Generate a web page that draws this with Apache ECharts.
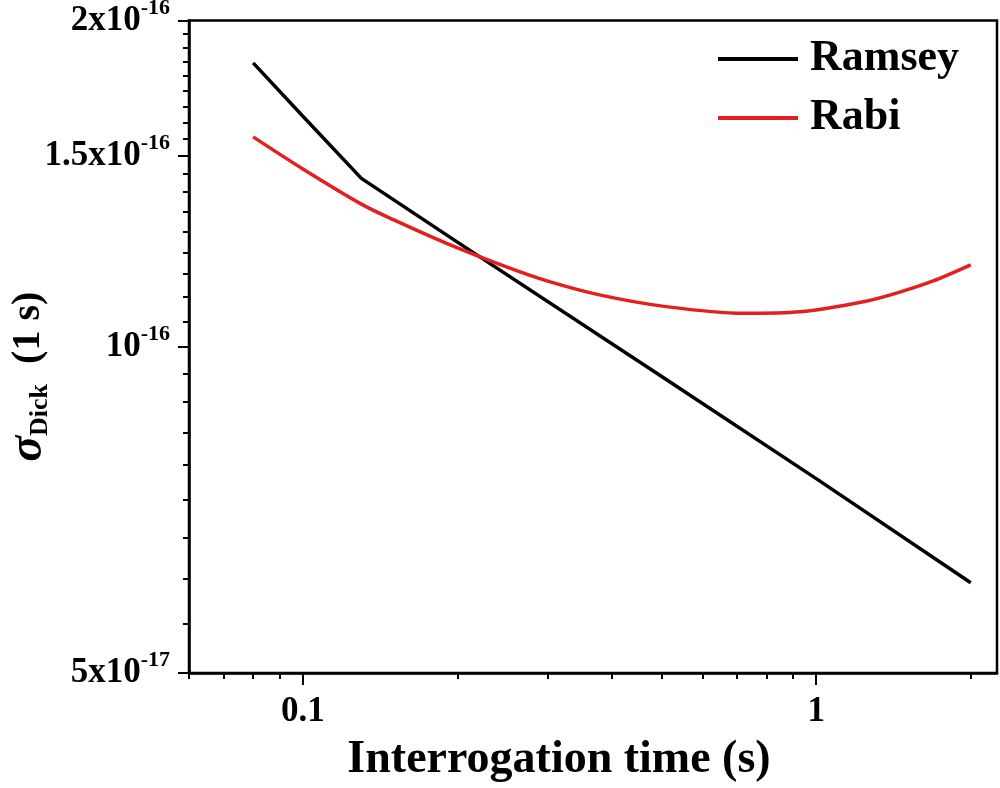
<!DOCTYPE html>
<html><head><meta charset="utf-8">
<script src="https://cdn.jsdelivr.net/npm/echarts@6/dist/echarts.min.js"></script>
<style>html,body{margin:0;padding:0;background:#fff}#c{width:1000px;height:788px}</style>
</head><body><div id="c"></div>
<script>
const timeRamsey = [0.08, 0.1, 0.13, 0.2, 0.5, 1, 2];
const sigmaRamsey = [1.828e-16, 1.632e-16, 1.43e-16, 1.249e-16, 0.9387e-16, 0.7556e-16, 0.6056e-16];
const timeRabi = [0.08, 0.1, 0.13, 0.15, 0.19, 0.25, 0.3, 0.38, 0.51, 0.72, 0.93, 1.25, 1.45, 1.69, 2];
const sigmaRabi = [1.562e-16, 1.459e-16, 1.354e-16, 1.310e-16, 1.2465e-16, 1.1844e-16, 1.1497e-16, 1.116e-16, 1.089e-16, 1.0735e-16, 1.077e-16, 1.1017e-16, 1.1226e-16, 1.150e-16, 1.19e-16];
const seriesNames = ['Ramsey', 'Rabi'];

const xMajorTicks = [0.1, 1];
const xTickLabels = ['0.1', '1'];
const xMinorTicks = [0.06, 0.07, 0.08, 0.09, 0.2, 0.3, 0.4, 0.5, 0.6, 0.7, 0.8, 0.9, 2];
const yMajorTicks = [5e-17, 1e-16, 1.5e-16, 2e-16];
const yTickMantissa = ['5x10', '10', '1.5x10', '2x10'];
const yTickExponent = ['-17', '-16', '-16', '-16'];
const yMinorTicks = [
  0.5556e-16, 0.6111e-16, 0.6667e-16, 0.7222e-16, 0.7778e-16, 0.8333e-16, 0.8889e-16, 0.9444e-16,
  1.0556e-16, 1.1111e-16, 1.1667e-16, 1.2222e-16, 1.2778e-16, 1.3333e-16, 1.3889e-16, 1.4444e-16,
  1.5556e-16, 1.6111e-16, 1.6667e-16, 1.7222e-16, 1.7778e-16, 1.8333e-16, 1.8889e-16, 1.9444e-16
];

const FONT = 'Liberation Serif';
const near = (a, b) => Math.abs(a - b) <= Math.abs(b) * 1e-6;

const chart = echarts.init(document.getElementById('c'), null, {renderer: 'canvas'});
const grid = {left: 189, top: 20.5, right: 3, bottom: 115, containLabel: false, outerBoundsMode: 'none',
  show: true, borderColor: '#000', borderWidth: 2.5, backgroundColor: 'transparent'};
const xBase = {type: 'log', logBase: 10, min: 0.06, max: 2.25, splitLine: {show: false}, minorTick: {show: false}};
const yBase = {type: 'log', logBase: 10, min: 5e-17, max: 2e-16, splitLine: {show: false}, minorTick: {show: false}};

chart.setOption({
  animation: false,
  backgroundColor: '#fff',
  grid: grid,
  legend: {
    orient: 'vertical', left: 718, top: 37, padding: 0, itemGap: 15,
    itemWidth: 80, itemHeight: 4, icon: 'rect',
    data: seriesNames,
    textStyle: {fontFamily: FONT, fontWeight: 'bold', fontSize: 44, color: '#000', padding: [0, 0, 0, 7]}
  },
  xAxis: [
    Object.assign({}, xBase, {
      position: 'bottom',
      name: 'Interrogation time (s)', nameLocation: 'middle', nameGap: 64, nameMoveOverlap: false,
      nameTextStyle: {fontFamily: FONT, fontWeight: 'bold', fontSize: 46, color: '#000', padding: [0, 68, 0, 0]},
      axisLine: {show: true, lineStyle: {color: '#000', width: 2.5}},
      axisTick: {show: true, inside: false, length: 12, lineStyle: {color: '#000', width: 2}, customValues: xMajorTicks},
      axisLabel: {
        show: true, margin: 21, customValues: xMajorTicks,
        fontFamily: FONT, fontWeight: 'bold', fontSize: 35, color: '#000',
        formatter: v => { const i = xMajorTicks.findIndex(t => near(v, t)); return i >= 0 ? xTickLabels[i] : ''; }
      }
    }),
    Object.assign({}, xBase, {
      position: 'bottom',
      axisLine: {show: false},
      axisTick: {show: true, inside: false, length: 6, lineStyle: {color: '#000', width: 2}, customValues: xMinorTicks},
      axisLabel: {show: false}
    })
  ],
  yAxis: [
    Object.assign({}, yBase, {
      position: 'left',
      name: '{s|σ}{sub|Dick}{n|  (1 s)}', nameLocation: 'middle', nameRotate: 90, nameGap: 136, nameMoveOverlap: false,
      nameTextStyle: {
        fontFamily: FONT, fontWeight: 'bold', fontSize: 40, color: '#000', padding: [0, 60, 0, 0],
        rich: {
          s: {fontFamily: FONT, fontWeight: 'bold', fontStyle: 'italic', fontSize: 48, color: '#000'},
          sub: {fontFamily: FONT, fontWeight: 'bold', fontSize: 26, color: '#000', padding: [22, 0, 0, 0]},
          n: {fontFamily: FONT, fontWeight: 'bold', fontSize: 40, color: '#000'}
        }
      },
      axisLine: {show: true, lineStyle: {color: '#000', width: 2.5}},
      axisTick: {show: true, inside: false, length: 11, lineStyle: {color: '#000', width: 2}, customValues: yMajorTicks},
      axisLabel: {
        show: true, margin: 19, customValues: yMajorTicks,
        formatter: v => { const i = yMajorTicks.findIndex(t => near(v, t)); return i >= 0 ? '{b|' + yTickMantissa[i] + '}{e|' + yTickExponent[i] + '}' : ''; },
        rich: {
          b: {fontFamily: FONT, fontWeight: 'bold', fontSize: 35, color: '#000'},
          e: {fontFamily: FONT, fontWeight: 'bold', fontSize: 22, color: '#000', padding: [0, 0, 25, 0]}
        }
      }
    }),
    Object.assign({}, yBase, {
      position: 'left',
      axisLine: {show: false},
      axisTick: {show: true, inside: false, length: 6, lineStyle: {color: '#000', width: 2}, customValues: yMinorTicks},
      axisLabel: {show: false}
    })
  ],
  series: [
    {
      name: seriesNames[0], type: 'line', xAxisIndex: 0, yAxisIndex: 0,
      showSymbol: false, symbol: 'none', smooth: false,
      lineStyle: {color: '#000', width: 3.5}, itemStyle: {color: '#000'},
      data: timeRamsey.map((t, i) => [t, sigmaRamsey[i]])
    },
    {
      name: seriesNames[1], type: 'line', xAxisIndex: 0, yAxisIndex: 0,
      showSymbol: false, symbol: 'none', smooth: 0.3,
      lineStyle: {color: '#e3201f', width: 3.5}, itemStyle: {color: '#e3201f'},
      data: timeRabi.map((t, i) => [t, sigmaRabi[i]])
    }
  ]
});
</script>
</body></html>
